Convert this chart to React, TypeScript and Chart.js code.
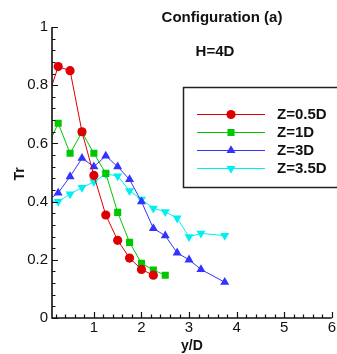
import React, { useEffect, useRef } from "react";
import { Chart, registerables } from "chart.js";

Chart.register(...registerables);

const seriesNames = ["Z=0.5D", "Z=1D", "Z=3D", "Z=3.5D"];

const redX = [0, 0.25, 0.5, 0.75, 1, 1.25, 1.5, 1.75, 2, 2.25];
const redY = [0.74, 0.864, 0.85, 0.64, 0.49, 0.354, 0.267, 0.206, 0.167, 0.147];

const greenX = [0, 0.25, 0.5, 0.75, 1, 1.25, 1.5, 1.75, 2, 2.25, 2.5];
const greenY = [0.58, 0.669, 0.566, 0.638, 0.566, 0.497, 0.363, 0.26, 0.188, 0.165, 0.147];

const blueX = [0, 0.25, 0.5, 0.75, 1, 1.25, 1.5, 1.75, 2, 2.25, 2.5, 2.75, 3, 3.25, 3.75];
const blueY = [0.4, 0.43, 0.486, 0.549, 0.52, 0.557, 0.52, 0.476, 0.4, 0.308, 0.283, 0.224, 0.2, 0.167, 0.123];

const cyanX = [0, 0.25, 0.5, 0.75, 1, 1.25, 1.5, 1.75, 2, 2.25, 2.5, 2.75, 3, 3.25, 3.75];
const cyanY = [0.405, 0.4, 0.426, 0.448, 0.468, 0.495, 0.488, 0.437, 0.408, 0.377, 0.365, 0.343, 0.279, 0.291, 0.283];

const xMajorTicks = [1, 2, 3, 4, 5, 6];
const yMajorTicks = [0, 0.2, 0.4, 0.6, 0.8, 1];
const yTickLabels = ["0", "0.2", "0.4", "0.6", "0.8", "1"];

const titleText = "Configuration (a)";
const noteText = "H=4D";
const xTitle = "y/D";
const yTitle = "Tr";

const toPts = (xs: number[], ys: number[]) => xs.map((x, i) => ({ x, y: ys[i] }));

const FONT = "'Liberation Sans', Arial, sans-serif";

const axesPlugin = {
  id: "customAxes",
  afterDatasetsDraw(chart: any) {
    const ctx = chart.ctx as CanvasRenderingContext2D;
    const xs = chart.scales.x;
    const ys = chart.scales.y;
    const area = chart.chartArea;
    const left = area.left;
    const bottom = area.bottom;
    const top = ys.getPixelForValue(1);
    const right = xs.getPixelForValue(6);
    ctx.save();
    ctx.strokeStyle = "#111";
    ctx.lineWidth = 1.6;
    ctx.beginPath();
    ctx.moveTo(left, top);
    ctx.lineTo(left, bottom);
    ctx.lineTo(right, bottom);
    ctx.stroke();

    // y ticks
    ctx.lineWidth = 1.2;
    ctx.beginPath();
    for (let k = 0; k <= 25; k++) {
      const v = k * 0.04;
      const py = Math.round(ys.getPixelForValue(v)) + 0.5;
      const major = k % 5 === 0;
      ctx.moveTo(left, py);
      ctx.lineTo(left + (major ? 6 : 3.5), py);
    }
    // x ticks
    for (let k = 1; k <= 30; k++) {
      const v = k * 0.2;
      const px = Math.round(xs.getPixelForValue(v)) + 0.5;
      const major = k % 5 === 0;
      ctx.moveTo(px, bottom);
      ctx.lineTo(px, bottom - (major ? 6 : 3.5));
    }
    ctx.stroke();

    // tick labels
    ctx.fillStyle = "#111";
    ctx.font = `15px ${FONT}`;
    ctx.textAlign = "right";
    ctx.textBaseline = "middle";
    yMajorTicks.forEach((v, i) => {
      ctx.fillText(yTickLabels[i], left - 4, ys.getPixelForValue(v));
    });
    ctx.textAlign = "center";
    ctx.textBaseline = "middle";
    xMajorTicks.forEach((v) => {
      ctx.fillText(String(v), xs.getPixelForValue(v), bottom + 10);
    });

    // axis titles
    ctx.font = `bold 14px ${FONT}`;
    ctx.fillText(xTitle, (left + right) / 2, bottom + 28);
    ctx.save();
    ctx.translate(20, 174);
    ctx.rotate(-Math.PI / 2);
    ctx.fillText(yTitle, 0, 0);
    ctx.restore();

    // titles
    ctx.font = `bold 15px ${FONT}`;
    ctx.fillText(titleText, 222, 18);
    ctx.fillText(noteText, 215, 52);

    // legend
    ctx.strokeStyle = "#222";
    ctx.lineWidth = 1.5;
    ctx.strokeRect(183.5, 87.5, 170, 100);
    const rowsY = [114.5, 132.5, 150.5, 168.5];
    chart.data.datasets.forEach((ds: any, i: number) => {
      const y = rowsY[i];
      ctx.strokeStyle = ds.borderColor;
      ctx.lineWidth = 1;
      ctx.beginPath();
      ctx.moveTo(197, y);
      ctx.lineTo(265, y);
      ctx.stroke();
      ctx.fillStyle = ds.pointBackgroundColor;
      ctx.strokeStyle = ds.pointBorderColor;
      (Chart as any).helpers?.drawPoint;
      drawMarker(ctx, ds.pointStyle, 231, y, ds.pointRadius, ds.pointRotation || 0);
      ctx.fillStyle = "#111";
      ctx.font = `bold 15px ${FONT}`;
      ctx.textAlign = "left";
      ctx.textBaseline = "middle";
      ctx.fillText(seriesNames[i], 277, y);
    });
    ctx.restore();
  },
};

function drawMarker(ctx: CanvasRenderingContext2D, style: string, x: number, y: number, r: number, rotDeg: number) {
  ctx.beginPath();
  if (style === "circle") {
    ctx.arc(x, y, r, 0, Math.PI * 2);
  } else if (style === "rect") {
    const s = r * Math.SQRT1_2;
    ctx.rect(x - s, y - s, 2 * s, 2 * s);
  } else if (style === "triangle") {
    let rad = (rotDeg * Math.PI) / 180;
    ctx.moveTo(x + Math.sin(rad) * r, y - Math.cos(rad) * r);
    rad += (2 * Math.PI) / 3;
    ctx.lineTo(x + Math.sin(rad) * r, y - Math.cos(rad) * r);
    rad += (2 * Math.PI) / 3;
    ctx.lineTo(x + Math.sin(rad) * r, y - Math.cos(rad) * r);
    ctx.closePath();
  }
  ctx.fill();
}

export default function App() {
  const canvasRef = useRef<HTMLCanvasElement | null>(null);
  useEffect(() => {
    document.body.style.margin = "0";
    const canvas = canvasRef.current;
    if (!canvas) return;
    const mk = (i: number, xs: number[], ys: number[], color: string, style: string, radius: number, rot = 0) => ({
      label: seriesNames[i],
      data: toPts(xs, ys),
      borderColor: color,
      backgroundColor: color,
      pointBackgroundColor: color,
      pointBorderColor: color,
      borderWidth: 1,
      pointBorderWidth: 0,
      pointStyle: style,
      pointRadius: radius,
      pointRotation: rot,
      tension: 0,
      clip: 0,
    });
    const chart = new Chart(canvas, {
      type: "line",
      data: {
        datasets: [
          mk(0, redX, redY, "#dd0000", "circle", 4.6),
          mk(1, greenX, greenY, "#00c800", "rect", 5),
          mk(2, blueX, blueY, "#3333ff", "triangle", 5.2),
          mk(3, cyanX, cyanY, "#00f0f0", "triangle", 5.2, 180),
        ] as any,
      },
      options: {
        responsive: false,
        animation: false,
        layout: { padding: { left: 52, right: 2.3, top: 27, bottom: 36 } },
        scales: {
          x: { type: "linear", min: 0.12, max: 6, display: false },
          y: { type: "linear", min: 0, max: 1, display: false },
        },
        plugins: { legend: { display: false }, tooltip: { enabled: false } },
      },
      plugins: [axesPlugin],
    });
    return () => chart.destroy();
  }, []);
  return (
    <div style={{ width: 337, height: 354, background: "#fff" }}>
      <canvas ref={canvasRef} width={337} height={354} />
    </div>
  );
}
